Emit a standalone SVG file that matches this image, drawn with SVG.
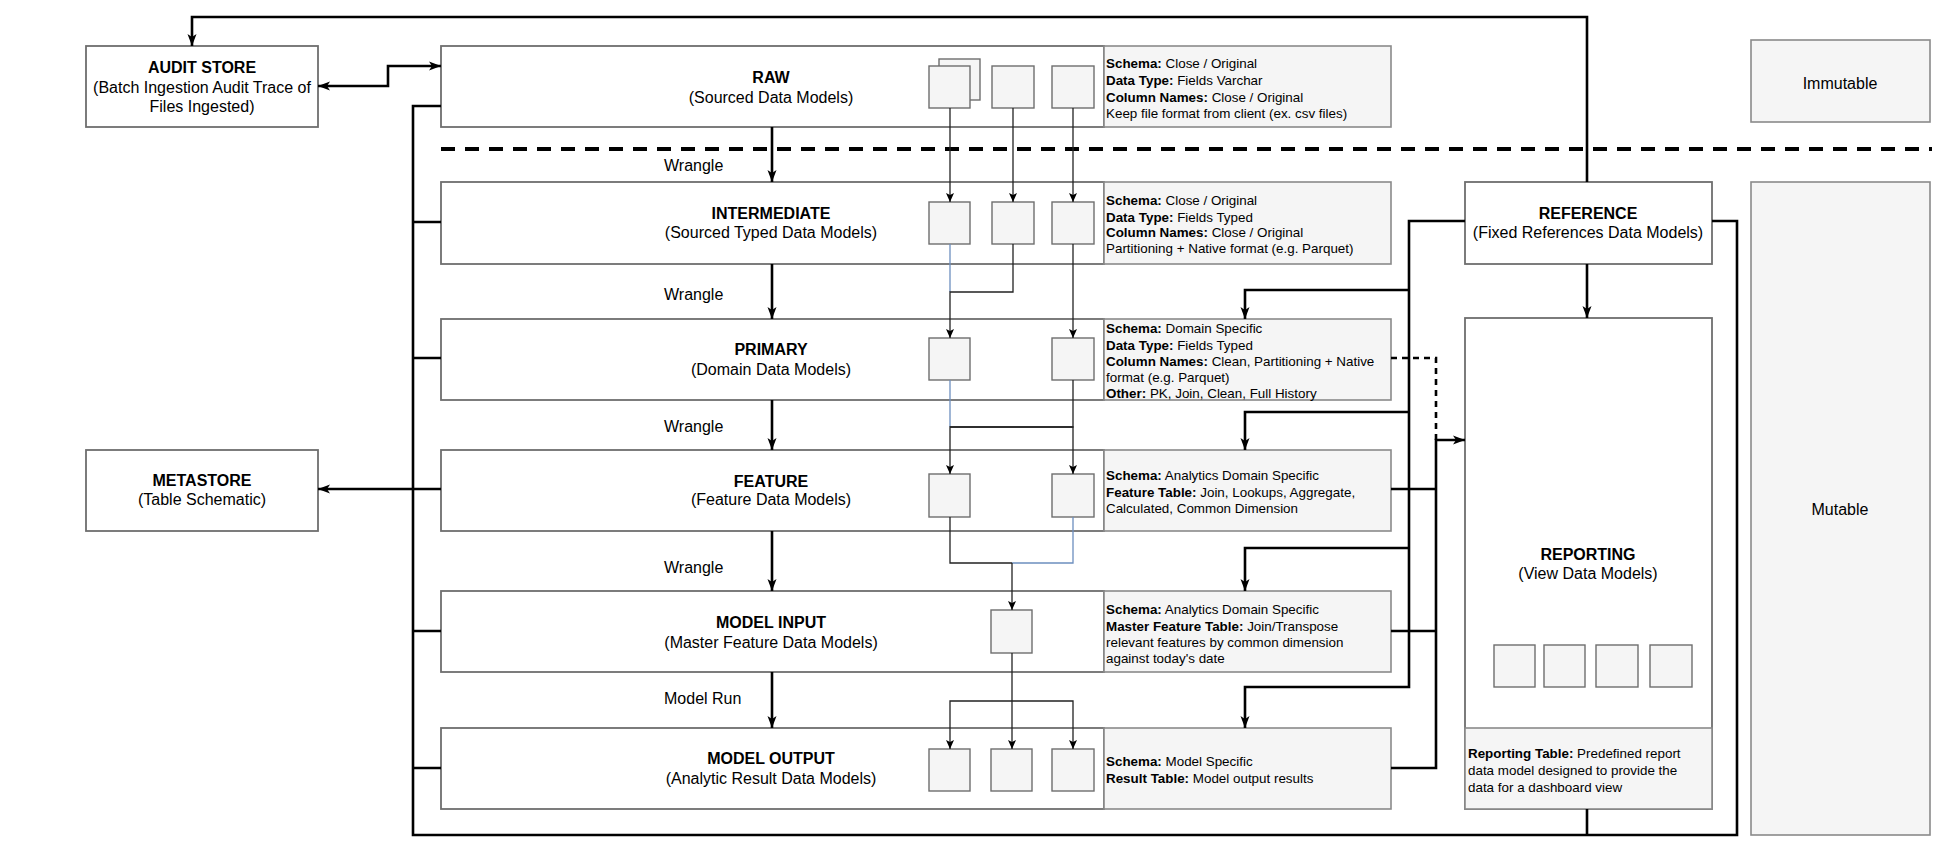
<svg xmlns="http://www.w3.org/2000/svg" width="1946" height="841" viewBox="0 0 1946 841">
  <style>
    text { font-family: "Liberation Sans", Arial, Helvetica, sans-serif; fill: #000; }
    .title { font-size: 16px; font-weight: bold; text-anchor: middle; }
    .sub { font-size: 16px; text-anchor: middle; }
    .lbl { font-size: 16px; }
    .info { font-size: 13.4px; }
    .info tspan.b { font-weight: bold; }
    .box { fill: #ffffff; stroke: #6e6e6e; stroke-width: 1.8; }
    .note { fill: #f5f5f5; stroke: #8a8a8a; stroke-width: 1.6; }
    .icon { fill: #f5f5f5; stroke: #6e6e6e; stroke-width: 1.4; }
    .thick { fill: none; stroke: #000; stroke-width: 2.6; }
    .thin { fill: none; stroke: #222; stroke-width: 1.3; }
    .blue { fill: none; stroke: #6c8ebf; stroke-width: 1.3; }
    .sep { fill: none; stroke: #000; stroke-width: 4; stroke-dasharray: 14 10; }
    .dash { fill: none; stroke: #000; stroke-width: 2.6; stroke-dasharray: 6 5; }
  </style>
  <defs>
    <marker id="ah" viewBox="0 0 12 10" refX="12" refY="5" markerWidth="12" markerHeight="10" markerUnits="userSpaceOnUse" orient="auto-start-reverse">
      <path d="M0,0.5 L12,5 L0,9.5 L3,5 Z" fill="#000"/>
    </marker>
    <marker id="as" viewBox="0 0 9 8" refX="9" refY="4" markerWidth="9" markerHeight="8" markerUnits="userSpaceOnUse" orient="auto">
      <path d="M0,0 L9,4 L0,8 L2,4 Z" fill="#000"/>
    </marker>
  </defs>

  <!-- separator between immutable and mutable layers -->
  <path class="sep" d="M441,149 H1932"/>

  <!-- side panels -->
  <g id="immutable">
    <rect class="note" x="1751" y="40" width="179" height="82"/>
    <text class="sub" x="1840" y="89">Immutable</text>
  </g>
  <g id="mutable">
    <rect class="note" x="1751" y="182" width="179" height="653"/>
    <text class="sub" x="1840" y="515">Mutable</text>
  </g>

  <!-- external stores -->
  <g id="audit-store">
    <rect class="box" x="86" y="46" width="232" height="81"/>
    <text class="title" x="202" y="73">AUDIT STORE</text>
    <text class="sub" x="202" y="93">(Batch Ingestion Audit Trace of</text>
    <text class="sub" x="202" y="112">Files Ingested)</text>
  </g>
  <g id="metastore">
    <rect class="box" x="86" y="450" width="232" height="81"/>
    <text class="title" x="202" y="486">METASTORE</text>
    <text class="sub" x="202" y="505">(Table Schematic)</text>
  </g>

  <!-- data layers -->
  <g id="raw">
    <rect class="box" x="441" y="46" width="663" height="81"/>
    <rect class="note" x="1104" y="46" width="287" height="81"/>
    <text class="title" x="771" y="83">RAW</text>
    <text class="sub" x="771" y="103">(Sourced Data Models)</text>
    <rect class="icon" x="939" y="59" width="41" height="41"/>
    <rect class="icon" x="929" y="66" width="41" height="42"/>
    <rect class="icon" x="992" y="66" width="42" height="42"/>
    <rect class="icon" x="1052" y="66" width="42" height="42"/>
    <text class="info" x="1106" y="67.5"><tspan class="b">Schema:</tspan> Close / Original</text>
    <text class="info" x="1106" y="84.5"><tspan class="b">Data Type:</tspan> Fields Varchar</text>
    <text class="info" x="1106" y="101.5"><tspan class="b">Column Names:</tspan> Close / Original</text>
    <text class="info" x="1106" y="117.5">Keep file format from client (ex. csv files)</text>
  </g>
  <g id="intermediate">
    <rect class="box" x="441" y="182" width="663" height="82"/>
    <rect class="note" x="1104" y="182" width="287" height="82"/>
    <text class="title" x="771" y="219">INTERMEDIATE</text>
    <text class="sub" x="771" y="238">(Sourced Typed Data Models)</text>
    <rect class="icon" x="929" y="202" width="41" height="42"/>
    <rect class="icon" x="992" y="202" width="42" height="42"/>
    <rect class="icon" x="1052" y="202" width="42" height="42"/>
    <text class="info" x="1106" y="204.5"><tspan class="b">Schema:</tspan> Close / Original</text>
    <text class="info" x="1106" y="221.5"><tspan class="b">Data Type:</tspan> Fields Typed</text>
    <text class="info" x="1106" y="236.5"><tspan class="b">Column Names:</tspan> Close / Original</text>
    <text class="info" x="1106" y="252.5">Partitioning + Native format (e.g. Parquet)</text>
  </g>
  <g id="primary">
    <rect class="box" x="441" y="319" width="663" height="81"/>
    <rect class="note" x="1104" y="319" width="287" height="81"/>
    <text class="title" x="771" y="355">PRIMARY</text>
    <text class="sub" x="771" y="375">(Domain Data Models)</text>
    <rect class="icon" x="929" y="338" width="41" height="42"/>
    <rect class="icon" x="1052" y="338" width="42" height="42"/>
    <text class="info" x="1106" y="332.5"><tspan class="b">Schema:</tspan> Domain Specific</text>
    <text class="info" x="1106" y="349.5"><tspan class="b">Data Type:</tspan> Fields Typed</text>
    <text class="info" x="1106" y="365.5"><tspan class="b">Column Names:</tspan> Clean, Partitioning + Native</text>
    <text class="info" x="1106" y="381.5">format (e.g. Parquet)</text>
    <text class="info" x="1106" y="397.5"><tspan class="b">Other:</tspan> PK, Join, Clean, Full History</text>
  </g>
  <g id="feature">
    <rect class="box" x="441" y="450" width="663" height="81"/>
    <rect class="note" x="1104" y="450" width="287" height="81"/>
    <text class="title" x="771" y="487">FEATURE</text>
    <text class="sub" x="771" y="505">(Feature Data Models)</text>
    <rect class="icon" x="929" y="474" width="41" height="43"/>
    <rect class="icon" x="1052" y="474" width="42" height="43"/>
    <text class="info" x="1106" y="479.5"><tspan class="b">Schema:</tspan> Analytics Domain Specific</text>
    <text class="info" x="1106" y="496.5"><tspan class="b">Feature Table:</tspan> Join, Lookups, Aggregate,</text>
    <text class="info" x="1106" y="512.5">Calculated, Common Dimension</text>
  </g>
  <g id="model-input">
    <rect class="box" x="441" y="591" width="663" height="81"/>
    <rect class="note" x="1104" y="591" width="287" height="81"/>
    <text class="title" x="771" y="628">MODEL INPUT</text>
    <text class="sub" x="771" y="648">(Master Feature Data Models)</text>
    <rect class="icon" x="991" y="610" width="41" height="43"/>
    <text class="info" x="1106" y="613.5"><tspan class="b">Schema:</tspan> Analytics Domain Specific</text>
    <text class="info" x="1106" y="630.5"><tspan class="b">Master Feature Table:</tspan> Join/Transpose</text>
    <text class="info" x="1106" y="646.5">relevant features by common dimension</text>
    <text class="info" x="1106" y="662.5">against today's date</text>
  </g>
  <g id="model-output">
    <rect class="box" x="441" y="728" width="663" height="81"/>
    <rect class="note" x="1104" y="728" width="287" height="81"/>
    <text class="title" x="771" y="764">MODEL OUTPUT</text>
    <text class="sub" x="771" y="784">(Analytic Result Data Models)</text>
    <rect class="icon" x="929" y="749" width="41" height="42"/>
    <rect class="icon" x="991" y="749" width="41" height="42"/>
    <rect class="icon" x="1052" y="749" width="42" height="42"/>
    <text class="info" x="1106" y="765.5"><tspan class="b">Schema:</tspan> Model Specific</text>
    <text class="info" x="1106" y="782.5"><tspan class="b">Result Table:</tspan> Model output results</text>
  </g>

  <g id="reference">
    <rect class="box" x="1465" y="182" width="247" height="82"/>
    <text class="title" x="1588" y="219">REFERENCE</text>
    <text class="sub" x="1588" y="238">(Fixed References Data Models)</text>
  </g>
  <g id="reporting">
    <rect class="box" x="1465" y="318" width="247" height="491"/>
    <rect class="note" x="1465" y="728" width="247" height="81"/>
    <text class="title" x="1588" y="560">REPORTING</text>
    <text class="sub" x="1588" y="579">(View Data Models)</text>
    <rect class="icon" x="1494" y="645" width="41" height="42"/>
    <rect class="icon" x="1544" y="645" width="41" height="42"/>
    <rect class="icon" x="1596" y="645" width="42" height="42"/>
    <rect class="icon" x="1650" y="645" width="42" height="42"/>
    <text class="info" x="1468" y="757.5"><tspan class="b">Reporting Table:</tspan> Predefined report</text>
    <text class="info" x="1468" y="774.5">data model designed to provide the</text>
    <text class="info" x="1468" y="791.5">data for a dashboard view</text>
  </g>

  <!-- step labels -->
  <g id="step-labels">
    <text class="lbl" x="664" y="171">Wrangle</text>
    <text class="lbl" x="664" y="300">Wrangle</text>
    <text class="lbl" x="664" y="432">Wrangle</text>
    <text class="lbl" x="664" y="573">Wrangle</text>
    <text class="lbl" x="664" y="704">Model Run</text>
  </g>

  <g id="connectors">
    <!-- layer to layer flow -->
    <path class="thick" d="M772,127 V182" marker-end="url(#ah)"/>
    <path class="thick" d="M772,264 V319" marker-end="url(#ah)"/>
    <path class="thick" d="M772,400 V450" marker-end="url(#ah)"/>
    <path class="thick" d="M772,531 V591" marker-end="url(#ah)"/>
    <path class="thick" d="M772,672 V728" marker-end="url(#ah)"/>

    <!-- audit trail -->
    <path class="thick" d="M1587,182 V17 H192 V46" marker-end="url(#ah)"/>
    <path class="thick" d="M318,86 H388 V66 H441" marker-start="url(#ah)" marker-end="url(#ah)"/>

    <!-- metadata bus -->
    <path class="thick" d="M441,106 H413 V835 H1737 V221 H1712"/>
    <path class="thick" d="M413,222 H441 M413,358 H441 M413,631 H441 M413,768 H441 M1587,809 V835"/>
    <path class="thick" d="M441,489 H318" marker-end="url(#ah)"/>

    <!-- reference data -->
    <path class="thick" d="M1587,264 V318" marker-end="url(#ah)"/>
    <path class="thick" d="M1465,221 H1409 V687 H1245 V728" marker-end="url(#ah)"/>
    <path class="thick" d="M1409,290 H1245 V319" marker-end="url(#ah)"/>
    <path class="thick" d="M1409,412 H1245 V450" marker-end="url(#ah)"/>
    <path class="thick" d="M1409,548 H1245 V591" marker-end="url(#ah)"/>

    <!-- feeds into reporting -->
    <path class="dash" d="M1391,358 H1436 V440"/>
    <path class="thick" d="M1391,768 H1436 V440 H1465" marker-end="url(#ah)"/>
    <path class="thick" d="M1391,489 H1436 M1391,631 H1436"/>

    <!-- table lineage -->
    <path class="thin" d="M950,108 V202" marker-end="url(#as)"/>
    <path class="thin" d="M1013,108 V202" marker-end="url(#as)"/>
    <path class="thin" d="M1073,108 V202" marker-end="url(#as)"/>

    <path class="blue" d="M950,244 V292"/>
    <path class="thin" d="M1013,244 V292 H950 V338" marker-end="url(#as)"/>
    <path class="thin" d="M1073,244 V338" marker-end="url(#as)"/>

    <path class="blue" d="M950,380 V427"/>
    <path class="thin" d="M1073,380 V427 H950 V474" marker-end="url(#as)"/>
    <path class="thin" d="M950,427 H1073 V474" marker-end="url(#as)"/>

    <path class="thin" d="M950,517 V563 H1012"/>
    <path class="blue" d="M1073,517 V563 H1012"/>
    <path class="thin" d="M1012,563 V610" marker-end="url(#as)"/>

    <path class="thin" d="M1012,653 V749" marker-end="url(#as)"/>
    <path class="thin" d="M1012,701 H950 V749" marker-end="url(#as)"/>
    <path class="thin" d="M1012,701 H1073 V749" marker-end="url(#as)"/>
  </g>
</svg>
